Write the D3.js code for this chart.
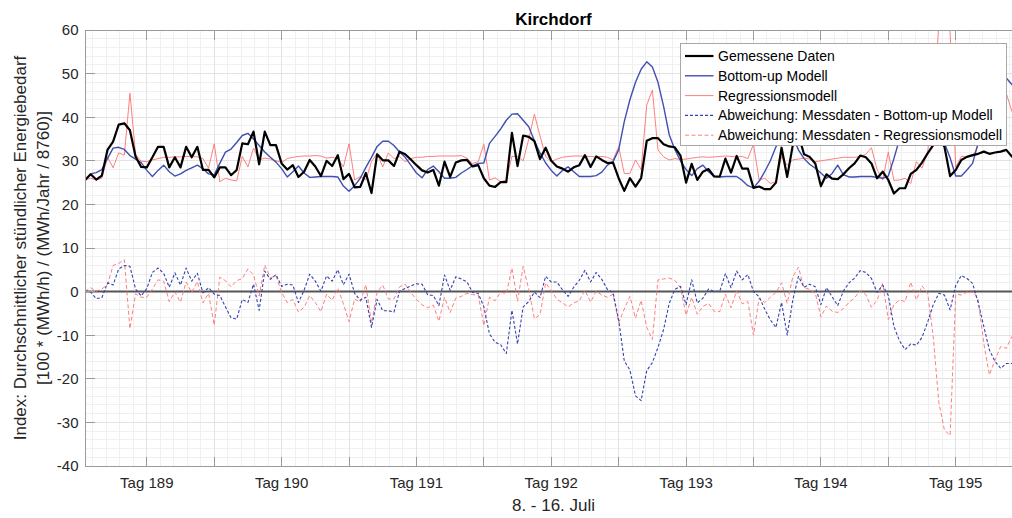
<!DOCTYPE html>
<html><head><meta charset="utf-8">
<script src="https://cdn.jsdelivr.net/npm/d3@7"></script>
<style>
html,body{margin:0;padding:0;background:#fff;}
svg{display:block;font-family:"Liberation Sans",Arial,Helvetica,sans-serif;}
</style></head><body>
<svg id="chart" width="1012" height="518"></svg>
<script>
// Hourly index values, Kirchdorf, 8. - 16. Juli (index 0 = first hour shown)
const measured = [
 25.6,26.9,25.7,26.6,32.5,34.4,38.3,38.6,37.0,31.0,
 28.6,28.5,30.8,33.2,33.2,28.5,30.8,28.5,33.2,30.8,
 33.2,27.9,27.9,26.2,28.5,28.5,26.7,27.9,34.0,33.8,
 36.7,29.2,36.7,33.6,33.6,29.4,28.0,29.0,26.3,27.5,
 30.2,28.7,26.5,30.0,28.8,31.3,25.8,27.0,23.9,24.0,
 27.2,22.6,31.5,30.1,30.1,28.8,32.1,31.5,30.3,29.0,
 27.8,27.3,27.9,24.3,29.8,26.3,29.6,30.1,30.2,28.7,
 29.0,26.0,24.3,24.0,25.1,25.1,36.4,28.8,35.8,35.5,
 34.5,30.4,33.0,30.0,28.7,28.2,27.5,28.5,29.0,31.3,
 28.6,31.0,30.2,29.5,29.6,26.0,23.1,26.0,24.1,26.0,
 34.6,35.2,35.2,33.8,33.3,33.1,31.2,25.0,29.3,25.6,
 27.5,28.1,26.4,26.4,30.5,27.3,31.1,28.2,28.2,23.8,
 24.1,23.5,23.5,25.0,33.0,26.3,33.6,36.0,31.5,30.9,
 29.4,24.2,26.9,25.9,25.8,26.9,28.3,29.4,31.2,30.8,
 29.4,26.0,27.5,25.6,22.5,23.7,23.7,27.0,27.9,29.6,
 31.7,33.6,35.5,33.2,26.5,27.9,30.2,30.9,31.3,31.6,
 32.1,31.6,31.9,32.1,32.5,31.0,30.6
];
const bottomUp = [
 25.4,27.0,27.3,28.0,30.5,32.9,33.1,32.6,31.2,30.4,
 29.6,27.8,26.4,27.8,29.0,27.5,26.5,27.0,27.8,28.4,
 29.0,28.2,27.0,26.8,29.4,32.0,32.7,34.2,35.8,36.3,
 35.0,33.5,32.0,30.8,29.7,28.2,26.3,27.5,28.8,27.2,
 26.2,26.3,26.4,26.4,26.4,26.3,24.2,23.0,24.3,26.0,
 28.5,30.8,33.3,34.5,34.5,33.5,32.0,30.8,29.0,27.2,
 26.1,28.0,28.8,27.5,26.0,26.0,26.2,27.2,28.0,28.9,
 29.4,29.5,34.0,35.6,37.3,39.3,40.7,40.8,39.3,37.8,
 34.6,31.8,29.5,27.8,26.5,27.8,28.6,27.5,26.4,26.4,
 26.4,26.6,27.4,29.0,29.8,32.5,39.0,44.0,48.0,51.0,
 52.7,51.5,48.0,42.5,36.0,32.6,30.0,28.0,26.6,28.2,
 29.0,27.5,26.4,26.3,26.4,26.4,26.4,25.5,24.3,23.8,
 25.3,27.5,30.0,33.2,35.5,36.3,35.5,32.5,30.5,29.2,
 28.3,27.2,26.0,27.1,29.0,26.8,26.3,26.3,26.4,26.4,
 26.4,26.2,26.0,26.5,30.5,35.0,37.0,39.0,40.2,40.1,
 38.7,36.6,35.9,34.0,30.7,26.5,26.5,27.9,29.4,34.1,
 40.1,45.0,47.9,49.7,49.0,47.5,46.5
];
const regression = [
 25.6,26.0,25.6,26.0,30.9,28.4,31.8,31.3,45.5,31.5,
 29.9,29.8,30.2,30.5,30.8,30.8,30.9,30.9,31.0,31.0,
 30.9,30.5,28.3,33.9,25.2,26.0,25.6,25.4,31.0,28.6,
 32.9,30.2,30.6,30.4,30.0,29.6,30.5,30.8,31.0,31.1,
 31.1,31.2,31.1,30.6,30.8,30.5,28.6,33.9,25.6,26.4,
 25.6,29.8,31.7,28.6,31.8,30.5,31.0,29.8,30.5,30.8,
 30.8,31.0,31.0,31.1,31.1,31.1,31.1,31.2,30.6,29.4,
 29.8,33.8,25.6,26.1,25.2,25.6,31.0,31.0,30.0,35.0,
 40.7,35.7,31.0,29.8,30.4,30.8,31.0,31.1,31.1,31.0,
 31.0,30.9,31.0,30.8,30.2,33.2,27.1,27.1,30.2,28.0,
 42.8,46.2,32.5,30.9,30.2,30.5,30.3,30.4,30.6,30.8,
 30.9,30.8,30.9,31.0,31.1,31.0,30.9,31.0,30.5,33.8,
 25.6,26.0,24.8,25.2,31.0,29.0,30.2,30.4,30.6,30.4,
 29.8,30.0,30.2,30.4,30.6,30.8,30.8,30.8,31.0,31.5,
 33.0,28.0,25.6,32.0,25.5,25.6,26.0,24.8,29.8,28.3,
 32.0,44.0,61.0,65.0,59.5,28.5,31.0,31.0,31.0,33.5,
 44.0,50.7,47.6,44.7,45.5,41.3,40.5
];
// Deviations as plotted: measured data minus each model
const devBottomUp = measured.map((m, i) => m - bottomUp[i]);
const devRegression = measured.map((m, i) => m - regression[i]);

const dayLabels = ["Tag 189","Tag 190","Tag 191","Tag 192","Tag 193","Tag 194","Tag 195"];
const yTickValues = [-40,-30,-20,-10,0,10,20,30,40,50,60];
const legendLabels = [
  "Gemessene Daten",
  "Bottom-up Modell",
  "Regressionsmodell",
  "Abweichung: Messdaten - Bottom-up Modell",
  "Abweichung: Messdaten - Regressionsmodell"
];

const svg = d3.select("#chart");
const P = {left: 85, right: 1022, top: 30, bottom: 466};
const x = d3.scaleLinear().domain([0, 166.8]).range([P.left, P.right]);
const y = d3.scaleLinear().domain([-40, 60]).range([P.bottom, P.top]);

// x ticks every 12 hours, day labels at the noon ticks
const xTickHours = d3.range(11, 167, 12);
const xMinor = d3.range(11 - 12, 168, 2.4).filter(h => h > 0 && h < 166.8);
const yMinor = d3.range(-40, 61, 2);

const grid = svg.append("g");
grid.selectAll(".mx").data(xMinor).join("line")
  .attr("x1", d => x(d)).attr("x2", d => x(d)).attr("y1", P.top).attr("y2", P.bottom)
  .attr("stroke", "#f0f0f0").attr("stroke-width", 1).attr("shape-rendering", "crispEdges");
grid.selectAll(".my").data(yMinor).join("line")
  .attr("y1", d => y(d)).attr("y2", d => y(d)).attr("x1", P.left).attr("x2", P.right)
  .attr("stroke", "#f0f0f0").attr("stroke-width", 1).attr("shape-rendering", "crispEdges");
grid.selectAll(".gx").data(xTickHours).join("line")
  .attr("x1", d => x(d)).attr("x2", d => x(d)).attr("y1", P.top).attr("y2", P.bottom)
  .attr("stroke", "#e2e2e2").attr("stroke-width", 1).attr("shape-rendering", "crispEdges");
grid.selectAll(".gy").data(yTickValues).join("line")
  .attr("y1", d => y(d)).attr("y2", d => y(d)).attr("x1", P.left).attr("x2", P.right)
  .attr("stroke", "#e2e2e2").attr("stroke-width", 1).attr("shape-rendering", "crispEdges");

svg.append("clipPath").attr("id", "plotClip").append("rect")
  .attr("x", P.left).attr("y", P.top).attr("width", P.right - P.left).attr("height", P.bottom - P.top);

const plotG = svg.append("g").attr("clip-path", "url(#plotClip)");

// zero reference line
plotG.append("line").attr("x1", P.left).attr("x2", P.right)
  .attr("y1", y(0)).attr("y2", y(0))
  .attr("stroke", "#555").attr("stroke-width", 2);

const line = d3.line().x((d, i) => x(i)).y(d => y(d));
const series = [
  {data: devRegression, color: "#ff6f6f", width: 0.9, dash: "4,2.5"},
  {data: devBottomUp, color: "#3443b0", width: 1.1, dash: "3,2"},
  {data: regression, color: "#ff7070", width: 0.9, dash: null},
  {data: bottomUp, color: "#3f4fb0", width: 1.4, dash: null},
  {data: measured, color: "#000", width: 2.2, dash: null}
];
series.forEach(s => {
  plotG.append("path").datum(s.data)
    .attr("d", line).attr("fill", "none")
    .attr("stroke", s.color).attr("stroke-width", s.width)
    .attr("stroke-linejoin", "round")
    .attr("stroke-dasharray", s.dash);
});

// axes box and inward ticks
const axisColor = "#9a9a9a";
const axG = svg.append("g").attr("stroke", axisColor).attr("stroke-width", 1).attr("shape-rendering", "crispEdges");
axG.append("rect").attr("x", P.left).attr("y", P.top).attr("width", P.right - P.left).attr("height", P.bottom - P.top).attr("fill", "none");
xTickHours.forEach(h => {
  axG.append("line").attr("x1", x(h)).attr("x2", x(h)).attr("y1", P.bottom).attr("y2", P.bottom - 9.5);
  axG.append("line").attr("x1", x(h)).attr("x2", x(h)).attr("y1", P.top).attr("y2", P.top + 9.5);
});
yTickValues.forEach(v => {
  axG.append("line").attr("x1", P.left).attr("x2", P.left + 9.5).attr("y1", y(v)).attr("y2", y(v));
});

// tick labels
const textColor = "#262626";
svg.append("g").selectAll("text").data(yTickValues).join("text")
  .attr("x", 78.5).attr("y", d => y(d) + 5.4)
  .attr("text-anchor", "end").attr("font-size", 15).attr("fill", textColor)
  .text(d => d);
svg.append("g").selectAll("text").data(dayLabels).join("text")
  .attr("x", (d, i) => x(11 + 24 * i)).attr("y", 487.5)
  .attr("text-anchor", "middle").attr("font-size", 15).attr("fill", textColor)
  .text(d => d);

// axis titles
const cx = (P.left + P.right) / 2;
svg.append("text").attr("x", cx).attr("y", 25)
  .attr("text-anchor", "middle").attr("font-size", 17).attr("font-weight", "bold").attr("fill", "#000")
  .text("Kirchdorf");
svg.append("text").attr("x", cx).attr("y", 511)
  .attr("text-anchor", "middle").attr("font-size", 17).attr("fill", textColor)
  .text("8. - 16. Juli");
const cy = (P.top + P.bottom) / 2;
svg.append("text").attr("transform", `translate(25.5,${cy}) rotate(-90)`)
  .attr("text-anchor", "middle").attr("font-size", 17).attr("fill", textColor)
  .text("Index: Durchschnittlicher stündlicher Energiebedarf");
svg.append("text").attr("transform", `translate(48.5,${cy}) rotate(-90)`)
  .attr("text-anchor", "middle").attr("font-size", 17).attr("fill", textColor)
  .text("[100 * (MWh/h) / (MWh/Jahr / 8760)]");

// legend
const L = {x: 680.5, y: 43.5, w: 326, h: 102};
const lg = svg.append("g");
lg.append("rect").attr("x", L.x).attr("y", L.y).attr("width", L.w).attr("height", L.h)
  .attr("fill", "#fff").attr("stroke", "#a8a8a8").attr("stroke-width", 1);
const legendStyles = [series[4], series[3], series[2], series[1], series[0]];
legendLabels.forEach((lab, i) => {
  const ry = 56 + i * 19.8;
  const st = legendStyles[i];
  lg.append("line").attr("x1", 685).attr("x2", 713.5).attr("y1", ry).attr("y2", ry)
    .attr("stroke", st.color).attr("stroke-width", st.width).attr("stroke-dasharray", st.dash);
  lg.append("text").attr("x", 718).attr("y", ry + 5)
    .attr("font-size", 14).attr("fill", "#000").text(lab);
});
</script>
</body></html>
